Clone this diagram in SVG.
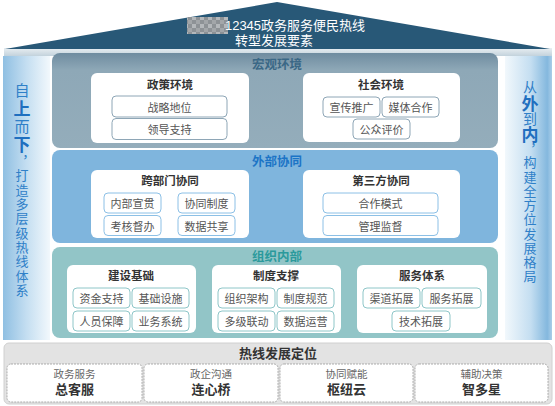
<svg xmlns="http://www.w3.org/2000/svg" width="555" height="406" viewBox="0 0 555 406">
<defs>
<linearGradient id="lg" x1="0" y1="0" x2="1" y2="0"><stop offset="0" stop-color="#8fbfe2"/><stop offset="0.5" stop-color="#c4def1"/><stop offset="1" stop-color="#f2f8fc"/></linearGradient>
<linearGradient id="rg" x1="0" y1="0" x2="1" y2="0"><stop offset="0" stop-color="#f2f8fc"/><stop offset="0.55" stop-color="#c4def1"/><stop offset="0.9" stop-color="#84b8de"/><stop offset="1" stop-color="#a9cde8"/></linearGradient>
<linearGradient id="gg" x1="0" y1="0" x2="0" y2="1"><stop offset="0" stop-color="#6f8ca0"/><stop offset="0.18" stop-color="#8ea8b7"/><stop offset="1" stop-color="#94adbb"/></linearGradient>
<linearGradient id="band" x1="0" y1="0" x2="0" y2="1"><stop offset="0" stop-color="#e8eef2"/><stop offset="1" stop-color="#c3d2dc"/></linearGradient>
<pattern id="px" width="8" height="8" patternUnits="userSpaceOnUse"><rect width="8" height="8" fill="#8d9296"/><rect width="4" height="4" fill="#b4b8bb"/><rect x="4" y="4" width="4" height="4" fill="#a2a6a9"/></pattern>
</defs>
<style>
text{font-family:"Noto Sans CJK SC","Noto Sans",sans-serif;dominant-baseline:central;text-anchor:middle}
text.lt{font-family:"Liberation Sans","Noto Sans CJK SC",sans-serif}
.sec{font-size:12.5px;font-weight:bold}
.bt{font-size:11.5px;font-weight:bold;fill:#333}
.it{font-size:11px;fill:#555}
.wb{fill:#fff}
.ig{fill:#fff;stroke:#8ea6b6;stroke-width:1}
.ib{fill:#fff;stroke:#8cc0e6;stroke-width:1}
.it2{fill:#fff;stroke:#8ec6c8;stroke-width:1}
.pb{fill:#fff;stroke:#9a9a9a;stroke-width:0.8;stroke-dasharray:2 1}
.sm{font-size:10.5px;fill:#666}
.bg{font-size:13px;font-weight:bold;fill:#333}
text.vt{writing-mode:vertical-rl;text-anchor:start;font-size:13px;fill:#2f80c8}
.sideb{font-size:17px;font-weight:bold;fill:#1f6fbf}
.sidem{font-size:15px}
.sidem2{font-size:14px}
</style>

<g id="roof">
<rect x="4" y="48" width="548" height="8" fill="url(#band)"/>
<polygon points="5,49 277,2 550,49" fill="#285877"/>
<rect x="187" y="17" width="41" height="17" fill="url(#px)"/>
<text class="lt" x="295" y="25" font-size="13" fill="#fff">12345政务服务便民热线</text>
<text class="lt" x="274" y="40" font-size="13" fill="#fff">转型发展要素</text>
</g>

<g id="left-strip">
<rect x="3" y="56" width="47" height="284" fill="url(#lg)"/>
<text class="vt" x="22" y="83"><tspan class="sidem" letter-spacing="2">自</tspan><tspan class="sideb" letter-spacing="2">上</tspan><tspan class="sidem" letter-spacing="2">而</tspan><tspan class="sideb" letter-spacing="2">下</tspan><tspan letter-spacing="1">，</tspan><tspan letter-spacing="1.3">打造多层级热线体系</tspan></text>
</g>

<g id="right-strip">
<rect x="505" y="56" width="47" height="284" fill="url(#rg)"/>
<text class="vt" x="530" y="80"><tspan class="sidem2" letter-spacing="1">从</tspan><tspan class="sideb">外</tspan><tspan class="sidem2">到</tspan><tspan class="sideb">内</tspan><tspan>，</tspan><tspan letter-spacing="1.25">构建全方位发展格局</tspan></text>
</g>

<g id="macro">
<rect x="52" y="53" width="446" height="95" rx="8" fill="url(#gg)"/>
<text class="sec" x="277" y="63" fill="#3b6886">宏观环境</text>
</g>
<g id="policy">
<rect class="wb" x="91" y="73" width="158" height="70" rx="6"/>
<text class="bt" x="170" y="84">政策环境</text>
<rect class="ig" x="112" y="96" width="115" height="21" rx="4"/>
<text class="it" x="169.5" y="106.5">战略地位</text>
<rect class="ig" x="112" y="118.5" width="115" height="21" rx="4"/>
<text class="it" x="169.5" y="129">领导支持</text>
</g>
<g id="social">
<rect class="wb" x="303" y="73" width="157" height="69" rx="6"/>
<text class="bt" x="381" y="84">社会环境</text>
<rect class="ig" x="323" y="97" width="57" height="20" rx="4"/>
<text class="it" x="351.5" y="107">宣传推广</text>
<rect class="ig" x="382" y="97" width="57" height="20" rx="4"/>
<text class="it" x="410.5" y="107">媒体合作</text>
<rect class="ig" x="353" y="119" width="57" height="20" rx="4"/>
<text class="it" x="381.5" y="129">公众评价</text>
</g>

<g id="external">
<rect x="52" y="150" width="446" height="93" rx="8" fill="#7fb5dd"/>
<text class="sec" x="277" y="160" fill="#1c74c6">外部协同</text>
</g>
<g id="cross-dept">
<rect class="wb" x="91" y="170" width="158" height="68" rx="6"/>
<text class="bt" x="170" y="180">跨部门协同</text>
<rect class="ib" x="104" y="193" width="57" height="20" rx="4"/>
<text class="it" x="132.5" y="203">内部宣贯</text>
<rect class="ib" x="104" y="215.5" width="57" height="20" rx="4"/>
<text class="it" x="132.5" y="225.5">考核督办</text>
<rect class="ib" x="178" y="193" width="57" height="20" rx="4"/>
<text class="it" x="206.5" y="203">协同制度</text>
<rect class="ib" x="178" y="215.5" width="57" height="20" rx="4"/>
<text class="it" x="206.5" y="225.5">数据共享</text>
</g>
<g id="third-party">
<rect class="wb" x="303" y="170" width="157" height="68" rx="6"/>
<text class="bt" x="381" y="180">第三方协同</text>
<rect class="ib" x="323" y="193" width="115" height="20" rx="4"/>
<text class="it" x="380.5" y="203">合作模式</text>
<rect class="ib" x="323" y="215.5" width="115" height="20" rx="4"/>
<text class="it" x="380.5" y="225.5">管理监督</text>
</g>

<g id="internal">
<rect x="52" y="247" width="446" height="91" rx="8" fill="#92c5c7"/>
<text class="sec" x="277" y="255" fill="#2b9a9c">组织内部</text>
</g>
<g id="foundation">
<rect class="wb" x="67" y="265" width="129" height="68" rx="6"/>
<text class="bt" x="131" y="275">建设基础</text>
<rect class="it2" x="73" y="288" width="57" height="20" rx="4"/>
<text class="it" x="101.5" y="298">资金支持</text>
<rect class="it2" x="132" y="288" width="57" height="20" rx="4"/>
<text class="it" x="160.5" y="298">基础设施</text>
<rect class="it2" x="73" y="311" width="57" height="20" rx="4"/>
<text class="it" x="101.5" y="321">人员保障</text>
<rect class="it2" x="132" y="311" width="57" height="20" rx="4"/>
<text class="it" x="160.5" y="321">业务系统</text>
</g>
<g id="institution">
<rect class="wb" x="212" y="265" width="129" height="68" rx="6"/>
<text class="bt" x="276" y="275">制度支撑</text>
<rect class="it2" x="218" y="288" width="57" height="20" rx="4"/>
<text class="it" x="246.5" y="298">组织架构</text>
<rect class="it2" x="277" y="288" width="57" height="20" rx="4"/>
<text class="it" x="305.5" y="298">制度规范</text>
<rect class="it2" x="218" y="311" width="57" height="20" rx="4"/>
<text class="it" x="246.5" y="321">多级联动</text>
<rect class="it2" x="277" y="311" width="57" height="20" rx="4"/>
<text class="it" x="305.5" y="321">数据运营</text>
</g>
<g id="service">
<rect class="wb" x="357" y="265" width="130" height="68" rx="6"/>
<text class="bt" x="422" y="275">服务体系</text>
<rect class="it2" x="363" y="288" width="57" height="20" rx="4"/>
<text class="it" x="391.5" y="298">渠道拓展</text>
<rect class="it2" x="422" y="288" width="59" height="20" rx="4"/>
<text class="it" x="451.5" y="298">服务拓展</text>
<rect class="it2" x="392" y="311" width="58" height="20" rx="4"/>
<text class="it" x="421" y="321">技术拓展</text>
</g>

<g id="positioning">
<rect x="4" y="343" width="548" height="61" rx="5" fill="#e3e3e3" stroke="#d0d0d0"/>
<text class="bg" x="278" y="352.5" font-size="12.5">热线发展定位</text>
</g>
<g id="p1">
<rect class="pb" x="7" y="364" width="135" height="38" rx="4"/>
<text class="sm lt" x="74.5" y="374">政务服务</text>
<text class="bg lt" x="74.5" y="389">总客服</text>
</g>
<g id="p2">
<rect class="pb" x="144" y="364" width="134" height="38" rx="4"/>
<text class="sm lt" x="211" y="374">政企沟通</text>
<text class="bg lt" x="211" y="389">连心桥</text>
</g>
<g id="p3">
<rect class="pb" x="280" y="364" width="133" height="38" rx="4"/>
<text class="sm lt" x="346.5" y="374">协同赋能</text>
<text class="bg lt" x="346.5" y="389">枢纽云</text>
</g>
<g id="p4">
<rect class="pb" x="415" y="364" width="133" height="38" rx="4"/>
<text class="sm lt" x="481.5" y="374">辅助决策</text>
<text class="bg lt" x="481.5" y="389">智多星</text>
</g>
<g id="connectors"></g>
</svg>
